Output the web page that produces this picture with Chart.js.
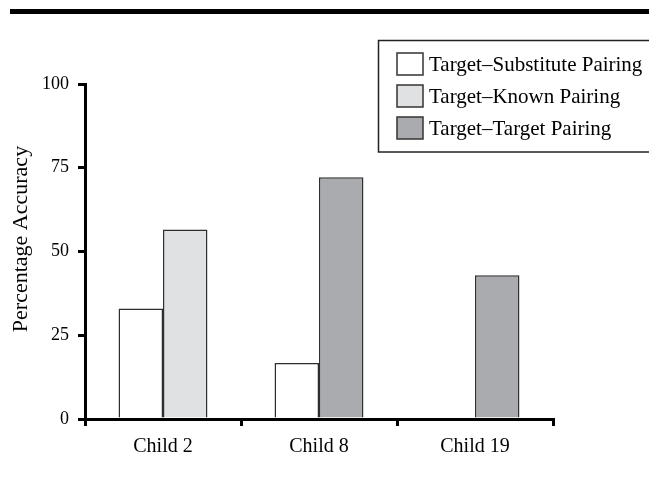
<!DOCTYPE html>
<html>
<head>
<meta charset="utf-8">
<script src="https://cdn.jsdelivr.net/npm/chart.js@4.4.0/dist/chart.umd.min.js"></script>
<style>
  html, body { margin: 0; padding: 0; background: #fff; }
  #wrap { width: 649px; height: 485px; position: relative; }
</style>
</head>
<body>
<div id="wrap"><canvas id="myChart"></canvas></div>
<script>
var categories = ['Child 2', 'Child 8', 'Child 19'];
var seriesNames = ['Target\u2013Substitute Pairing', 'Target\u2013Known Pairing', 'Target\u2013Target Pairing'];
var substitute = [33.0, 16.7, null];
var known = [56.6, null, null];
var target = [null, 72.2, 42.9];
var yTicks = [0, 25, 50, 75, 100];
var yTitle = 'Percentage Accuracy';

var FONT = "'Liberation Serif', 'Times New Roman', serif";

// thick rule across the top, y title (sits a bit above centre in the original) and boxed legend
var decor = {
  id: 'decor',
  afterDraw: function (chart) {
    var ctx = chart.ctx;
    ctx.save();
    ctx.fillStyle = '#000';
    ctx.fillRect(10, 9, 639, 5);

    ctx.save();
    ctx.translate(21, 239);
    ctx.rotate(-Math.PI / 2);
    ctx.font = '22px ' + FONT;
    ctx.textAlign = 'center';
    ctx.textBaseline = 'middle';
    ctx.fillText(yTitle, 0, 0);
    ctx.restore();

    ctx.strokeStyle = '#222';
    ctx.lineWidth = 1.5;
    ctx.strokeRect(378.5, 40.5, 280, 111.5);

    ctx.font = '21px ' + FONT;
    ctx.textBaseline = 'middle';
    chart.data.datasets.forEach(function (ds, i) {
      var cy = 64 + i * 32;
      ctx.fillStyle = ds.backgroundColor;
      ctx.fillRect(397, cy - 11, 26, 22);
      ctx.strokeStyle = '#333';
      ctx.lineWidth = 1.5;
      ctx.strokeRect(397, cy - 11, 26, 22);
      ctx.fillStyle = '#000';
      ctx.fillText(ds.label, 429, cy + 1);
    });
    ctx.restore();
  }
};

function renderChart() {
  var ctx = document.getElementById('myChart').getContext('2d');
  var common = { borderColor: '#2e2e2e', borderWidth: 1.5, borderSkipped: 'start',
                 barPercentage: 1, categoryPercentage: 0.57 };
  new Chart(ctx, {
    type: 'bar',
    data: {
      labels: categories,
      datasets: [
        Object.assign({ label: seriesNames[0], data: substitute, backgroundColor: '#ffffff', stack: 'a' }, common),
        Object.assign({ label: seriesNames[1], data: known, backgroundColor: '#e0e1e3', stack: 'b' }, common),
        Object.assign({ label: seriesNames[2], data: target, backgroundColor: '#aaabae', stack: 'b' }, common)
      ]
    },
    options: {
      responsive: true,
      maintainAspectRatio: false,
      animation: false,
      layout: { padding: { top: 84, right: 96, left: 0, bottom: 0 } },
      plugins: { legend: { display: false }, tooltip: { enabled: false } },
      scales: {
        x: {
          grid: { offset: true, drawOnChartArea: false, drawTicks: true, tickLength: 7, color: '#000', lineWidth: 3 },
          border: { display: true, color: '#000', width: 3 },
          ticks: { color: '#000', font: { family: FONT, size: 20 }, padding: 9 },
          afterFit: function (s) { s.height = 66; }
        },
        y: {
          stacked: true,
          min: 0,
          max: 100,
          afterBuildTicks: function (s) { s.ticks = yTicks.map(function (v) { return { value: v }; }); },
          grid: { drawOnChartArea: false, drawTicks: true, tickLength: 7, color: '#000', lineWidth: 3 },
          border: { display: true, color: '#000', width: 3 },
          ticks: { color: '#000', font: { family: FONT, size: 18 }, padding: 9 },
          afterFit: function (s) { s.width = 85; }
        }
      }
    },
    plugins: [decor]
  });
}

document.addEventListener('DOMContentLoaded', renderChart);
</script>
</body>
</html>
